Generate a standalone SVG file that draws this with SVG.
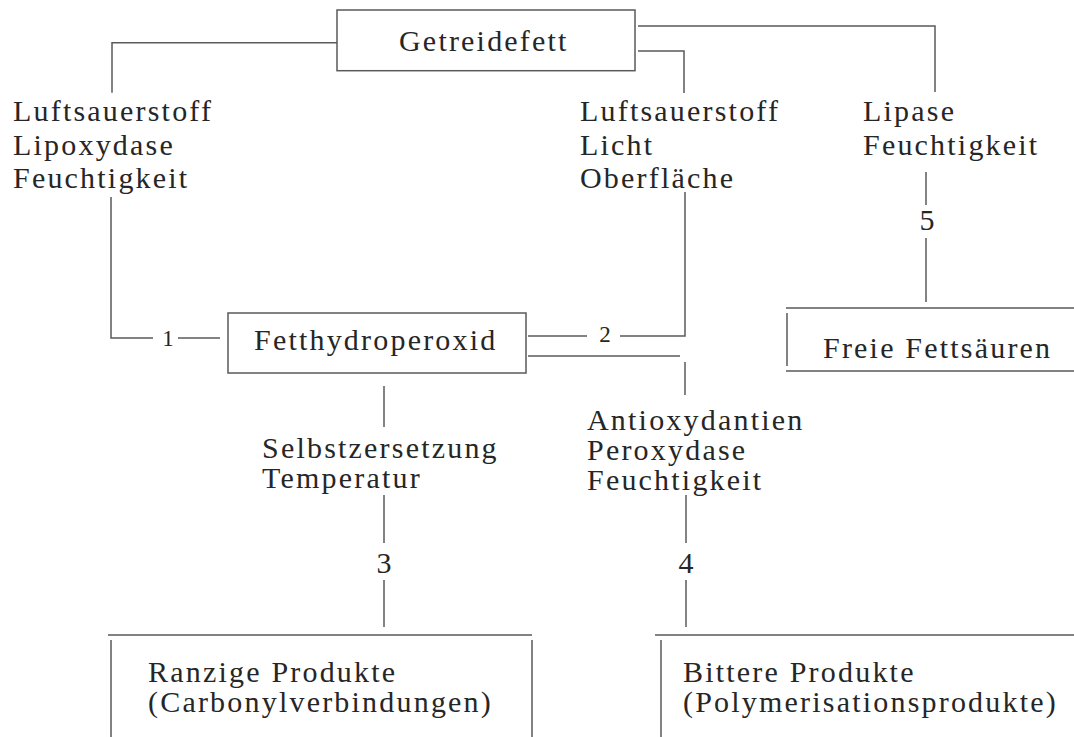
<svg xmlns="http://www.w3.org/2000/svg" width="1074" height="737" viewBox="0 0 1074 737">
<style>
.t{font-family:"Liberation Serif","Times New Roman",serif;font-size:30px;letter-spacing:2.2px;fill:#262626}
.n{font-family:"Liberation Serif","Times New Roman",serif;font-size:30px;fill:#262626;text-anchor:middle}
.s{font-family:"Liberation Serif","Times New Roman",serif;font-size:23px;fill:#262626;text-anchor:middle}
.l{stroke:#5a5a5a;stroke-width:1.5;fill:none}
</style>
<rect width="1074" height="737" fill="#ffffff"/>
<g id="connectors" class="l">
<path d="M337 42.7 H112 V92.7"/>
<path d="M111 197 V338 H153"/>
<path d="M178 338 H220"/>
<path d="M638 26 H935 V92"/>
<path d="M638 51 H684 V93"/>
<path d="M685 192 V336 H620"/>
<path d="M587 336 H528"/>
<path d="M528 356 H680"/>
<path d="M685 362 V395"/>
<path d="M926 172 V205"/>
<path d="M926 238 V302"/>
<path d="M384 386 V427"/>
<path d="M384 495 V543"/>
<path d="M384 580 V627"/>
<path d="M686 495 V543"/>
<path d="M686 580 V627"/>
</g>
<g id="labels">
<text class="t" x="13" y="121">Luftsauerstoff</text>
<text class="t" x="13" y="155">Lipoxydase</text>
<text class="t" x="13" y="188">Feuchtigkeit</text>
<text class="t" x="580" y="121">Luftsauerstoff</text>
<text class="t" x="580" y="155">Licht</text>
<text class="t" x="580" y="188">Oberfläche</text>
<text class="t" x="863" y="121">Lipase</text>
<text class="t" x="863" y="155">Feuchtigkeit</text>
<text class="t" x="262" y="458">Selbstzersetzung</text>
<text class="t" x="262" y="488">Temperatur</text>
<text class="t" x="587" y="430">Antioxydantien</text>
<text class="t" x="587" y="460">Peroxydase</text>
<text class="t" x="587" y="490">Feuchtigkeit</text>
<text class="s" x="168" y="346">1</text>
<text class="s" x="605" y="342">2</text>
<text class="n" x="384" y="573">3</text>
<text class="n" x="686" y="573">4</text>
<text class="n" x="927" y="230">5</text>
</g>
<g id="getreidefett">
<rect class="l" x="337" y="10" width="298" height="60.7"/>
<text class="t" x="399" y="51">Getreidefett</text>
</g>
<g id="fetthydroperoxid">
<rect class="l" x="228" y="313" width="298" height="60"/>
<text class="t" x="254" y="350">Fetthydroperoxid</text>
</g>
<g id="freie-fettsaeuren">
<path class="l" d="M786 308 H1074 M786 371 H1074 M787 313 V366"/>
<text class="t" x="823" y="358">Freie Fettsäuren</text>
</g>
<g id="ranzige-produkte">
<path class="l" d="M108 635 H532 M111 640 V737 M532 640 V737"/>
<text class="t" x="148" y="682">Ranzige Produkte</text>
<text class="t" x="148" y="712">(Carbonylverbindungen)</text>
</g>
<g id="bittere-produkte">
<path class="l" d="M655 635 H1074 M661 640 V737"/>
<text class="t" x="683" y="682">Bittere Produkte</text>
<text class="t" x="683" y="712">(Polymerisationsprodukte)</text>
</g>
</svg>
